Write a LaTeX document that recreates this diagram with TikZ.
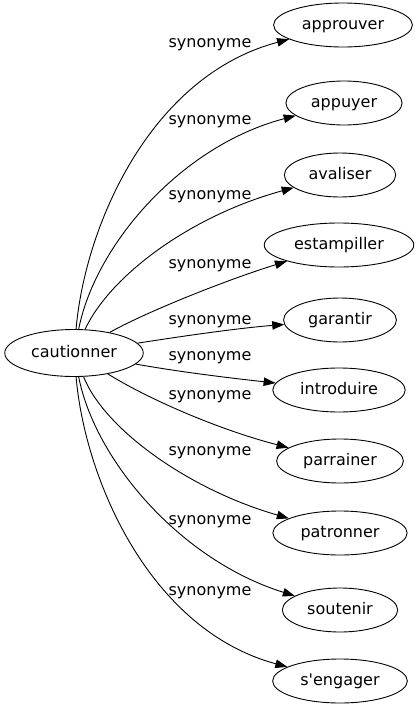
\documentclass[tikz,border=0pt]{standalone}
\usepackage{fontspec}
\setmainfont{DejaVu Sans}
\usetikzlibrary{arrows.meta,shapes.geometric}

\begin{document}
\begin{tikzpicture}[
    x=1pt, y=-1pt,
    % Node styles
    word/.style={ellipse, draw, line width=0.9pt, inner xsep=8pt, inner ysep=6pt,
                 minimum height=44pt, text height=11.5pt, text depth=3.5pt,
                 font=\fontsize{16}{19}\selectfont},
    headword/.style={word, inner xsep=6pt, minimum height=47pt},
    relation/.style={inner sep=0pt, font=\fontsize{16}{19}\selectfont},
    % Arrow styles
    synonym/.style={-{Triangle[length=12pt, width=8.5pt]}, line width=0.9pt}
]

% Canvas
\useasboundingbox (0,0) rectangle (417,707);

% Head word
\node[headword] (cautionner) at (74,353) {cautionner};

% Synonyms
\node[word] (approuver) at (343,25) {approuver};
\node[word] (appuyer) at (344,103) {appuyer};
\node[word] (avaliser) at (340,175) {avaliser};
\node[word] (estampiller) at (339,245) {estampiller};
\node[word] (garantir) at (340,320) {garantir};
\node[word] (introduire) at (339,390) {introduire};
\node[word] (parrainer) at (340,461) {parrainer};
\node[word] (patronner) at (340,533) {patronner};
\node[word] (soutenir) at (340,610) {soutenir};
\node[word] (sengager) at (340,681) {s\textquotesingle engager};

% Edge labels
\node[relation] (rel_approuver) at (210,45) {synonyme};
\node[relation] (rel_appuyer) at (210,122) {synonyme};
\node[relation] (rel_avaliser) at (210,197) {synonyme};
\node[relation] (rel_estampiller) at (210,266) {synonyme};
\node[relation] (rel_garantir) at (210,322) {synonyme};
\node[relation] (rel_introduire) at (210,358) {synonyme};
\node[relation] (rel_parrainer) at (210,397) {synonyme};
\node[relation] (rel_patronner) at (210,453) {synonyme};
\node[relation] (rel_soutenir) at (210,522) {synonyme};
\node[relation] (rel_sengager) at (210,593) {synonyme};

% Synonym edges
\draw[synonym] (cautionner) .. controls (85,226) and (150,76) .. (approuver);
\draw[synonym] (cautionner) .. controls (95,246) and (180,146) .. (appuyer);
\draw[synonym] (cautionner) .. controls (110,276) and (190,216) .. (avaliser);
\draw[synonym] (cautionner) .. controls (140,315) and (220,282) .. (estampiller);
\draw[synonym] (cautionner) .. controls (190,335) and (240,328) .. (garantir);
\draw[synonym] (cautionner) .. controls (180,372) and (230,378) .. (introduire);
\draw[synonym] (cautionner) .. controls (150,400) and (220,430) .. (parrainer);
\draw[synonym] (cautionner) .. controls (105,430) and (190,490) .. (patronner);
\draw[synonym] (cautionner) .. controls (95,460) and (180,560) .. (soutenir);
\draw[synonym] (cautionner) .. controls (85,480) and (150,630) .. (sengager);

\end{tikzpicture}
\end{document}
